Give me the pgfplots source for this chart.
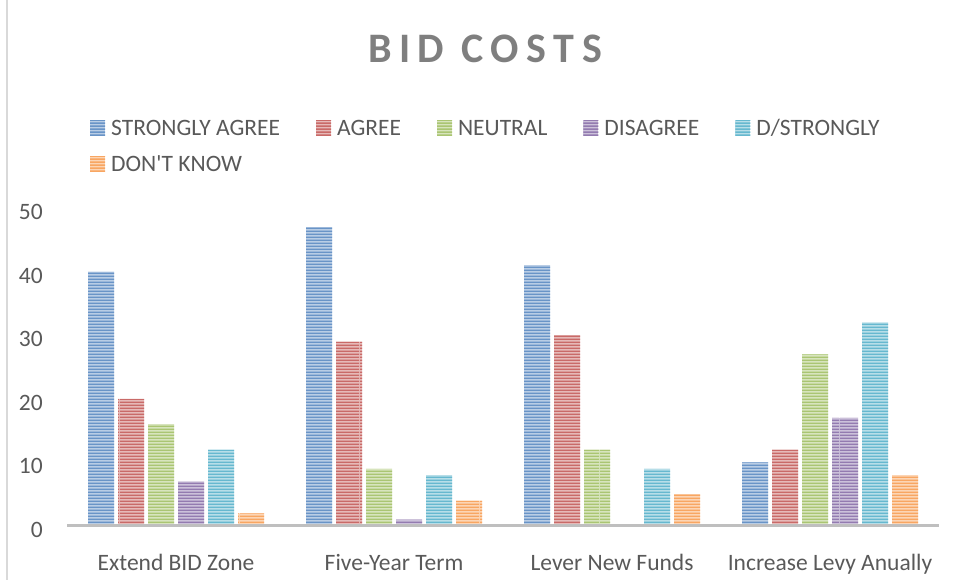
\documentclass[border=0pt]{standalone}
\usepackage{fontspec}
\setmainfont{Carlito}
\usepackage{pgfplots}
\pgfplotsset{compat=1.18}
\usepackage{pgfplotstable}
\usetikzlibrary{patterns}
\definecolor{cBlue}{HTML}{4F81BD}
\definecolor{cRed}{HTML}{C0504D}
\definecolor{cGreen}{HTML}{9BBB59}
\definecolor{cPurple}{HTML}{8064A2}
\definecolor{cCyan}{HTML}{4BACC6}
\definecolor{cOrange}{HTML}{F79646}
\definecolor{txt}{HTML}{595959}
\definecolor{ttl}{HTML}{7F7F7F}
\definecolor{axl}{HTML}{BFBFBF}
\definecolor{frm}{HTML}{D9D9D9}
\pgfdeclarepatternformonly{hstripes}{\pgfpointorigin}{\pgfpoint{120pt}{3pt}}{\pgfpoint{120pt}{3pt}}{%
  \pgfpathrectangle{\pgfpointorigin}{\pgfpoint{120pt}{1.9pt}}\pgfusepath{fill}}
\newcommand\fs{\fontsize{23.5pt}{28pt}\selectfont}
\pgfplotsset{barsty/.style={fill=#1!40!white, draw=none,
  postaction={pattern=hstripes, pattern color=#1!85!white}}}
\pgfplotstableread{
x sa ag ne di ds dk
0 40 20 16 7 12 2
1 47 29 9 1 8 4
2 41 30 12 0 9 5
3 10 12 27 17 32 8
}\data
\begin{document}
\begin{tikzpicture}
\path[use as bounding box] (0,0) rectangle (956pt,580pt);
\draw[frm, line width=1.5pt] (7pt,0) -- (7pt,580pt);
\node[anchor=base, text=ttl, font=\fontsize{42pt}{48pt}\selectfont\bfseries\addfontfeature{LetterSpace=18}] at (485pt,517pt) {BID COSTS};
\begin{axis}[
 at={(67pt,54pt)}, anchor=south west, scale only axis, width=872pt, height=318pt,
 xmin=-0.5, xmax=3.5, ymin=0, ymax=50, ytick={0,10,...,50},
 xtick={0,1,2,3}, xticklabels={Extend BID Zone, Five-Year Term, Lever New Funds, Increase Levy Anually},
 ybar=4pt, bar width=26pt,
 axis line style={draw=none}, major tick length=0pt,
 tick label style={font=\fs, text=txt},
 /pgf/number format/assume math mode=true,
 xticklabel style={inner sep=0pt, yshift=-28pt, anchor=north},
 yticklabel style={inner sep=0pt, xshift=-24pt, yshift=-4pt, anchor=east},
 clip=false,
 legend columns=5,
 legend style={draw=none, fill=none, at={(axis description cs:0.0264,1.2794)}, anchor=north west,
   font=\fs, text=txt, inner sep=0pt, nodes={inner sep=0pt, anchor=base west}, row sep=18pt,
   /tikz/every odd column/.append style={column sep=6pt},
   /tikz/every even column/.append style={column sep=36pt}},
 legend image code/.code={\fill[#1] (0pt,0pt) rectangle (15pt,15pt);},
]
\addplot[barsty=cBlue] table[x=x,y=sa] {\data};
\addplot[barsty=cRed] table[x=x,y=ag] {\data};
\addplot[barsty=cGreen] table[x=x,y=ne] {\data};
\addplot[barsty=cPurple] table[x=x,y=di] {\data};
\addplot[barsty=cCyan] table[x=x,y=ds] {\data};
\addplot[barsty=cOrange] table[x=x,y=dk] {\data};
\legend{STRONGLY AGREE, AGREE, NEUTRAL, DISAGREE, D/STRONGLY, DON\textquotesingle T KNOW}
\draw[axl, line width=3pt] (axis cs:-0.5,0) -- (axis cs:3.5,0);
\end{axis}
\end{tikzpicture}
\end{document}
